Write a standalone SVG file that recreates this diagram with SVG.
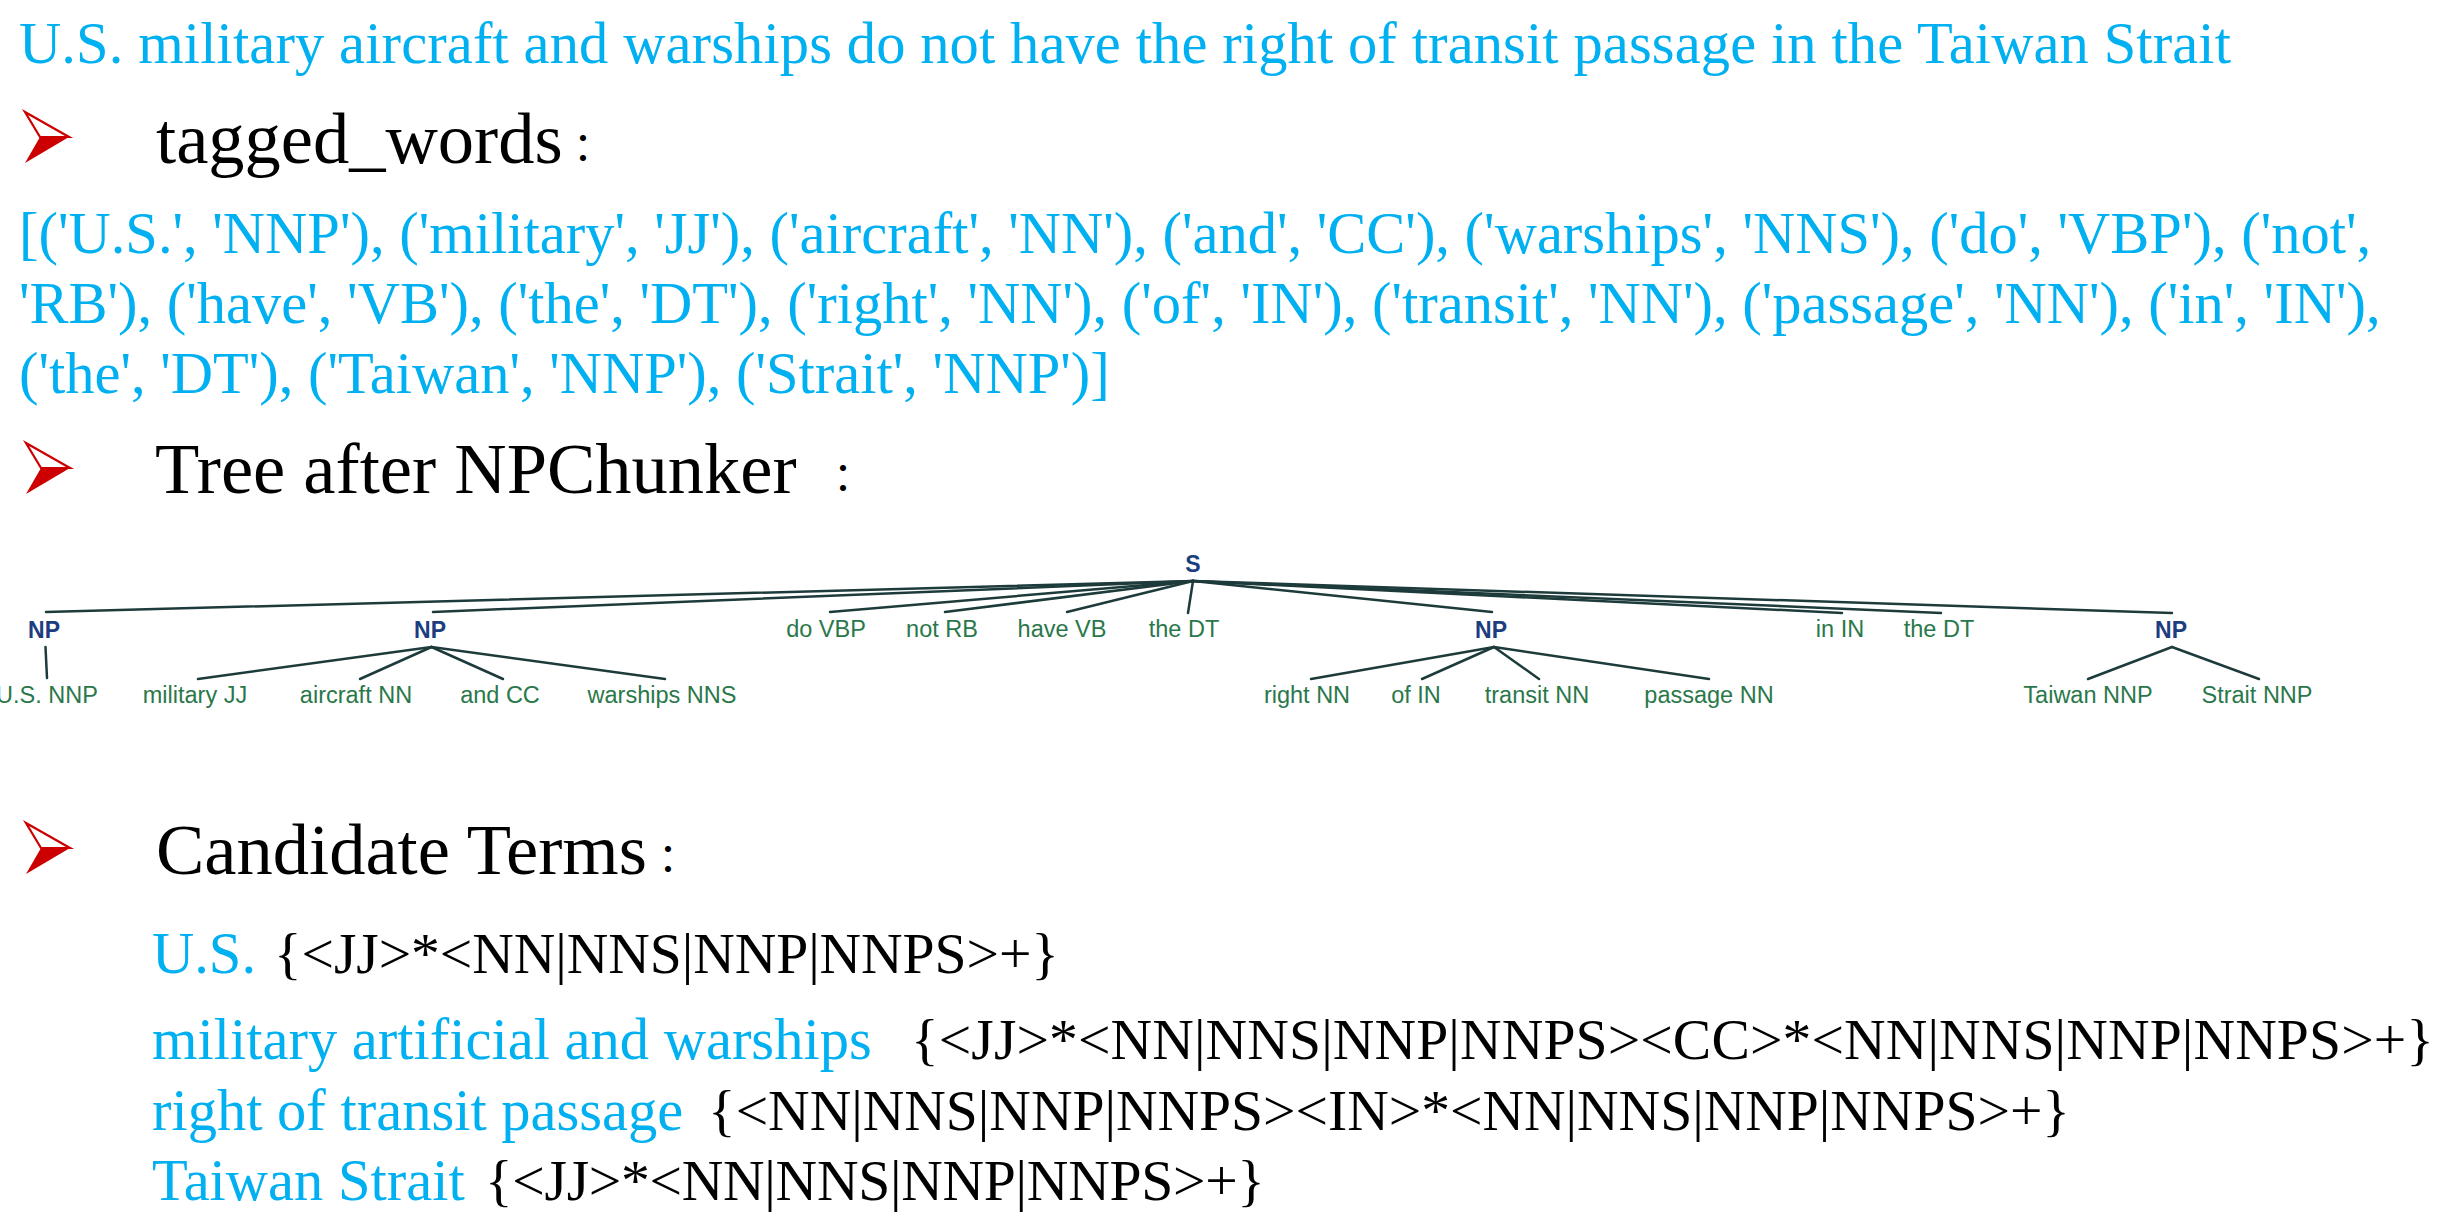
<svg xmlns="http://www.w3.org/2000/svg" xmlns:xlink="http://www.w3.org/1999/xlink" width="2452" height="1226" viewBox="0 0 2452 1226">
<defs>
<style>
.body{font-family:"Liberation Serif","Times New Roman",serif;font-size:58.5px;}
.cyan{fill:#00B0F0;}
.blk{fill:#000000;}
.head{font-family:"Liberation Serif","Times New Roman",serif;font-size:72.5px;fill:#000000;}
.colon{font-family:"Noto Sans CJK JP","Noto Sans CJK SC",sans-serif;font-size:40px;fill:#000000;text-anchor:middle;}
.pat{font-family:"Liberation Serif","Times New Roman",serif;font-size:57.6px;fill:#000000;}
.leaf{font-family:"Liberation Sans",Arial,sans-serif;font-size:23.5px;fill:#2A784A;text-anchor:middle;}
.ph{font-family:"Liberation Sans",Arial,sans-serif;font-size:23px;font-weight:bold;fill:#1C3D80;text-anchor:middle;}
.edge{stroke:#1E3B3B;stroke-width:2.5;fill:none;stroke-linecap:round;}
</style>
<g id="bullet-shape">
<path d="M0,0 L44,25 L15,25 Z" fill="#FFFFFF" stroke="#CC0000" stroke-width="2.2" stroke-linejoin="miter"/>
<path d="M15,25 L44,25 L0,51 Z" fill="#CC0000"/>
</g>
</defs>
<rect x="0" y="0" width="2452" height="1226" fill="#FFFFFF"/>

<g id="sentence">
<text class="body cyan" x="19" y="63" textLength="2212">U.S. military aircraft and warships do not have the right of transit passage in the Taiwan Strait</text>
</g>

<g id="tagged-words-heading">
<use xlink:href="#bullet-shape" x="25" y="112"/>
<text class="head" x="156" y="163">tagged_words</text>
<text class="colon" x="583" y="163">：</text>
</g>

<g id="tagged-words">
<text class="body cyan" x="19" y="253">[('U.S.', 'NNP'), ('military', 'JJ'), ('aircraft', 'NN'), ('and', 'CC'), ('warships', 'NNS'), ('do', 'VBP'), ('not',</text>
<text class="body cyan" x="19" y="323">'RB'), ('have', 'VB'), ('the', 'DT'), ('right', 'NN'), ('of', 'IN'), ('transit', 'NN'), ('passage', 'NN'), ('in', 'IN'),</text>
<text class="body cyan" x="19" y="393">('the', 'DT'), ('Taiwan', 'NNP'), ('Strait', 'NNP')]</text>
</g>

<g id="tree-heading">
<use xlink:href="#bullet-shape" x="26" y="443"/>
<text class="head" x="155" y="493">Tree after NPChunker</text>
<text class="colon" x="843" y="493">：</text>
</g>

<g id="tree-connectors">
<line class="edge" x1="1193" y1="581" x2="46" y2="612"/>
<line class="edge" x1="1193" y1="581" x2="433" y2="612"/>
<line class="edge" x1="1193" y1="581" x2="830" y2="612"/>
<line class="edge" x1="1193" y1="581" x2="945" y2="612"/>
<line class="edge" x1="1193" y1="581" x2="1067" y2="612"/>
<line class="edge" x1="1193" y1="581" x2="1188" y2="613"/>
<line class="edge" x1="1193" y1="581" x2="1492" y2="612"/>
<line class="edge" x1="1193" y1="581" x2="1842" y2="613"/>
<line class="edge" x1="1193" y1="581" x2="1941" y2="613"/>
<line class="edge" x1="1193" y1="581" x2="2172" y2="613"/>
<line class="edge" x1="45.5" y1="647" x2="47" y2="678"/>
<line class="edge" x1="431.5" y1="647" x2="198" y2="679"/>
<line class="edge" x1="431.5" y1="647" x2="360" y2="679"/>
<line class="edge" x1="431.5" y1="647" x2="503" y2="679"/>
<line class="edge" x1="431.5" y1="647" x2="665" y2="679"/>
<line class="edge" x1="1494" y1="647" x2="1311" y2="679"/>
<line class="edge" x1="1494" y1="647" x2="1422" y2="679"/>
<line class="edge" x1="1494" y1="647" x2="1539" y2="679"/>
<line class="edge" x1="1494" y1="647" x2="1709" y2="679"/>
<line class="edge" x1="2172" y1="647" x2="2088" y2="679"/>
<line class="edge" x1="2172" y1="647" x2="2259" y2="679"/>
</g>

<g id="node-S"><text class="ph" x="1193" y="572">S</text></g>
<g id="node-NP1"><text class="ph" x="44" y="638">NP</text></g>
<g id="node-NP2"><text class="ph" x="430" y="638">NP</text></g>
<g id="node-NP3"><text class="ph" x="1491" y="638">NP</text></g>
<g id="node-NP4"><text class="ph" x="2171" y="638">NP</text></g>
<g id="node-do"><text class="leaf" x="826" y="637">do VBP</text></g>
<g id="node-not"><text class="leaf" x="942" y="637">not RB</text></g>
<g id="node-have"><text class="leaf" x="1062" y="637">have VB</text></g>
<g id="node-the1"><text class="leaf" x="1184" y="637">the DT</text></g>
<g id="node-in"><text class="leaf" x="1840" y="637">in IN</text></g>
<g id="node-the2"><text class="leaf" x="1939" y="637">the DT</text></g>
<g id="node-us"><text class="leaf" x="47" y="703">U.S. NNP</text></g>
<g id="node-military"><text class="leaf" x="195" y="703">military JJ</text></g>
<g id="node-aircraft"><text class="leaf" x="356" y="703">aircraft NN</text></g>
<g id="node-and"><text class="leaf" x="500" y="703">and CC</text></g>
<g id="node-warships"><text class="leaf" x="662" y="703">warships NNS</text></g>
<g id="node-right"><text class="leaf" x="1307" y="703">right NN</text></g>
<g id="node-of"><text class="leaf" x="1416" y="703">of IN</text></g>
<g id="node-transit"><text class="leaf" x="1537" y="703">transit NN</text></g>
<g id="node-passage"><text class="leaf" x="1709" y="703">passage NN</text></g>
<g id="node-taiwan"><text class="leaf" x="2088" y="703">Taiwan NNP</text></g>
<g id="node-strait"><text class="leaf" x="2257" y="703">Strait NNP</text></g>

<g id="candidate-heading">
<use xlink:href="#bullet-shape" x="26" y="823"/>
<text class="head" x="156" y="874">Candidate Terms</text>
<text class="colon" x="668" y="874">：</text>
</g>

<g id="candidate-terms">
<text class="body cyan" x="152" y="973">U.S.</text>
<text class="pat" x="274" y="973" textLength="785">{&lt;JJ&gt;*&lt;NN|NNS|NNP|NNPS&gt;+}</text>
<text class="body cyan" x="152" y="1059">military artificial and warships</text>
<text class="pat" x="911" y="1059" textLength="1523">{&lt;JJ&gt;*&lt;NN|NNS|NNP|NNPS&gt;&lt;CC&gt;*&lt;NN|NNS|NNP|NNPS&gt;+}</text>
<text class="body cyan" x="152" y="1130">right of transit passage</text>
<text class="pat" x="708" y="1130" textLength="1362">{&lt;NN|NNS|NNP|NNPS&gt;&lt;IN&gt;*&lt;NN|NNS|NNP|NNPS&gt;+}</text>
<text class="body cyan" x="152" y="1200">Taiwan Strait</text>
<text class="pat" x="485" y="1200" textLength="780">{&lt;JJ&gt;*&lt;NN|NNS|NNP|NNPS&gt;+}</text>
</g>
</svg>
